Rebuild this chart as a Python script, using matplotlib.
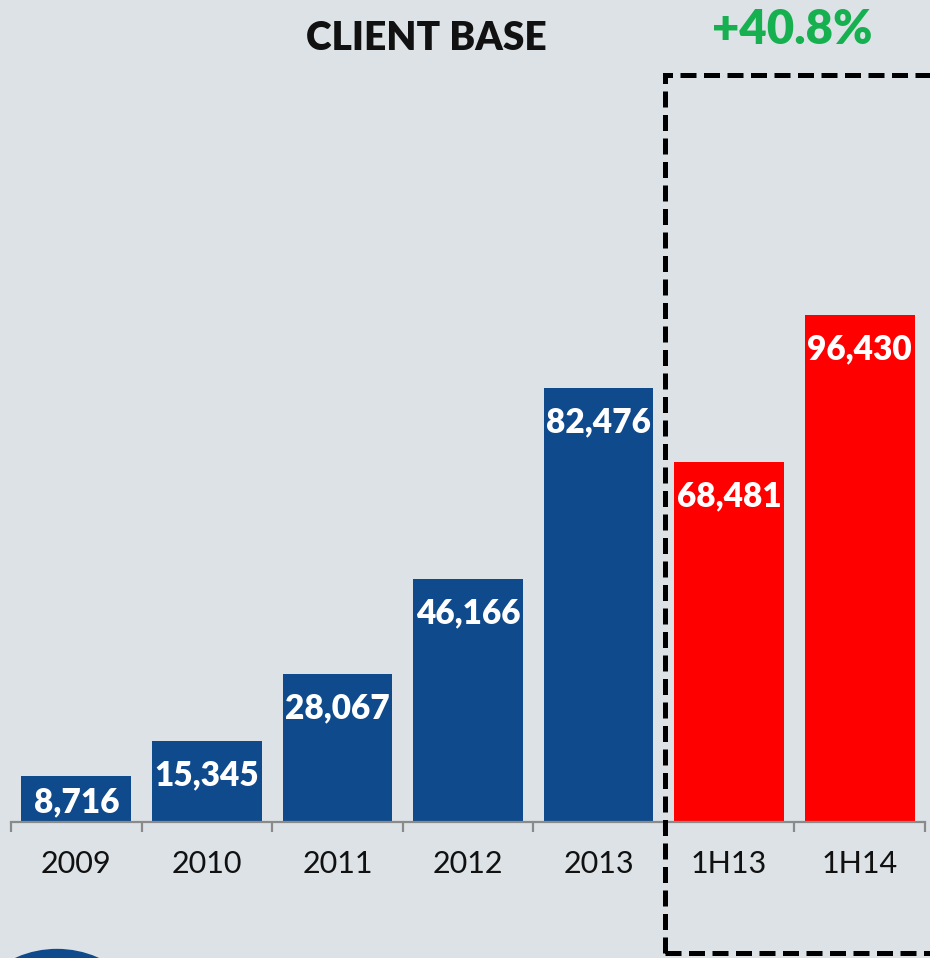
import matplotlib.pyplot as plt
import matplotlib as mpl
from matplotlib.patches import Rectangle, Circle

mpl.rcParams['font.family'] = ['Lato', 'DejaVu Sans']

# data
categories = ['2009', '2010', '2011', '2012', '2013', '1H13', '1H14']
clients = [8716, 15345, 28067, 46166, 82476, 68481, 96430]
bar_colors = ['#0f4a8c'] * 5 + ['#ff0000'] * 2
growth_label = '+40.8%'

W, H = 930, 958
bg = '#dce2e5'

fig = plt.figure(figsize=(W / 100, H / 100), dpi=100, facecolor=bg)

# axes: baseline at y=822px, from x=11 to x=925
ax = fig.add_axes([11 / W, (H - 822) / H, (925 - 11) / W, 822 / H])
ax.set_facecolor('none')
x = range(len(categories))
ax.bar(x, clients, width=0.84, color=bar_colors, zorder=2)
ax.set_xlim(-0.5, len(categories) - 0.5)
ax.set_ylim(0, 822 / 5.258 * 1000)

# bottom axis line and boundary ticks
for s in ['top', 'right', 'left']:
    ax.spines[s].set_visible(False)
ax.spines['bottom'].set_color('#8a8a8a')
ax.spines['bottom'].set_linewidth(1.6)
ax.set_yticks([])
ax.set_xticks([i - 0.5 for i in range(len(categories) + 1)])
ax.set_xticklabels([])
ax.tick_params(axis='x', length=7.5, width=1.6, color='#8a8a8a', direction='out')

# category labels
for i, c in enumerate(categories):
    ax.annotate(c, xy=(i, 0), xytext=(0, -42), textcoords='offset pixels',
                ha='center', va='center', fontsize=22, color='#111111')

# value labels inside bars
px_per_unit = 5.258 / 1000
for i, v in enumerate(clients):
    h = v * px_per_unit
    off = min(34, h / 2 + 3)
    ax.annotate(f'{v:,}', xy=(i, v), xytext=(0, -off), textcoords='offset pixels',
                ha='center', va='center', fontsize=24, fontweight='heavy', color='white')

# title and growth
fig.text(426 / W, 1 - 38 / H, 'CLIENT BASE', ha='center', va='center',
         fontsize=28, fontweight='heavy', color='#111111')
fig.text(792 / W, 1 - 30 / H, growth_label, ha='center', va='center',
         fontsize=34, fontweight='heavy', color='#17b050')

# dashed box around half-year bars
box = Rectangle((665 / W, 1 - 953 / H), 400 / W, (953 - 75) / H,
                transform=fig.transFigure, fill=False, edgecolor='black',
                linewidth=3.6, linestyle=(0, (3.2, 1.5)), zorder=5)
fig.patches.append(box)

# partial circle at bottom-left
circ = Circle((57 / W, 1 - 1057 / H), 105 / W, transform=fig.transFigure,
              facecolor='#0f4a8c', edgecolor='none')
fig.patches.append(circ)

plt.savefig('out.png', dpi=100, facecolor=bg)
